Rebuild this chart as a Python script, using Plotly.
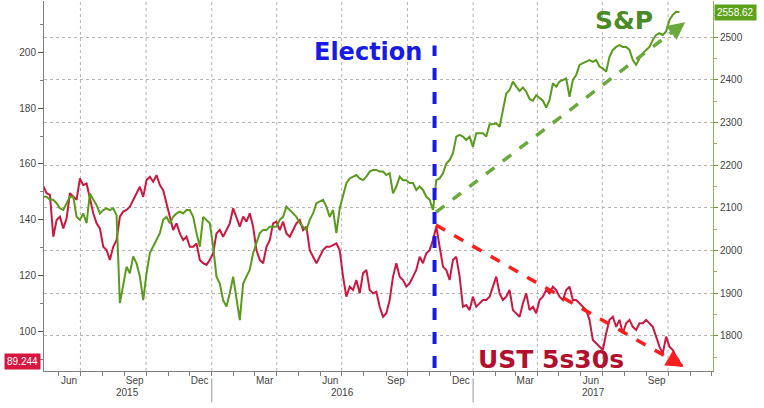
import pandas as pd
import plotly.graph_objects as go

# ---------------- data ----------------
series_start = "2015-05-10"
series_end = "2017-10-17"

ust_5s30s = [
    152, 149.5, 148.9, 133.9, 139.9, 141.1, 136.9, 140.5, 149.5, 148.2,
    147.1, 154.8, 152.4, 153.0, 147.1, 142.3, 138.7, 136.9, 130.3, 129.1,
    125.6, 130.3, 132.7, 141.1, 142.9, 143.5, 144.7, 147.1, 149.5, 151.8,
    148.2, 154.2, 155.4, 153.6, 156.0, 152.4, 150.6, 145.9, 141.1, 136.3,
    138.7, 135.1, 132.7, 133.9, 130.3, 130.3, 131.5,
    125.6, 124.4, 123.8, 125.6, 128.0, 135.1, 136.3, 133.9, 136.3, 138.7,
    144.1, 141.1, 137.5, 141.1, 139.3, 142.3, 137.5, 129.1, 125.6, 124.4,
    130.3, 132.7, 138.7, 139.3, 136.3, 139.3, 135.1, 133.9, 136.3, 138.7,
    139.9, 136.3, 137.5, 129.1, 126.7, 124.4, 126.7, 129.1, 130.3, 130.3,
    130.9, 131.5, 129.1, 119.6, 112.4, 116.0, 114.8, 118.4,
    113.6, 120.8, 122.0, 114.8, 113.6, 114.2, 108.8, 105.2, 106.5, 111.2,
    119.6, 124.4, 119.6, 118.4, 116.0, 117.2, 119.6, 122.0, 126.7, 124.4,
    128.0, 129.1, 132.7, 137.5, 130.3, 123.2, 122.0, 118.4, 125.6, 126.7,
    119.6, 108.8, 109.4, 107.6, 112.4, 108.8, 110.0, 111.2, 111.2, 112.4,
    116.0, 119.6, 113.6, 111.2, 112.4, 114.8, 107.6, 106.5,
    105.2, 110.0, 113.6, 107.6, 108.8, 106.5, 111.2, 112.4, 114.8, 113.6,
    116.0, 114.8, 112.4, 111.2, 114.8, 116.0, 111.2, 111.2, 110.0, 108.8,
    107.6, 104.1, 96.9, 95.7, 94.5, 93.3, 99.3, 104.1, 105.2, 101.6,
    104.1, 99.3, 102.9, 104.1, 101.6, 100.5, 102.9, 102.9, 104.1, 102.9,
    101.6, 98.1, 94.5, 92.1, 98.1, 94.5, 93.3, 90.9, 89.244,
]

spx = [
    2126, 2126, 2119, 2119, 2111, 2099, 2095, 2111, 2126, 2126,
    2079, 2072, 2087, 2064, 2134, 2119, 2107, 2087, 2095, 2099,
    2095, 2099, 2083, 1877, 1923, 1962, 1947, 1986, 1970, 1939,
    1884, 1947, 1994, 2009, 2025, 2041, 2072, 2079, 2064, 2079,
    2087, 2091, 2087, 2095, 2095, 2079, 2041,
    2009, 2079, 2072, 2064, 2009, 1939, 1923, 1884, 1869, 1900,
    1939, 1892, 1837, 1923, 1939, 1955, 1994, 2017, 2041, 2048,
    2048, 2056, 2056, 2056, 2072, 2079, 2103, 2095, 2087, 2079,
    2064, 2056, 2048, 2072, 2087, 2111, 2115, 2119, 2103, 2079,
    2095, 2041, 2099, 2126, 2158, 2169, 2173, 2177,
    2169, 2165, 2173, 2185, 2189, 2189, 2185, 2185, 2177, 2181,
    2134, 2150, 2173, 2165, 2165, 2158, 2158, 2142, 2150, 2142,
    2126, 2119, 2095, 2165, 2169, 2181, 2204, 2212, 2228, 2267,
    2271, 2267, 2259, 2267, 2243, 2275, 2275, 2275, 2267, 2296,
    2296, 2298, 2290, 2333, 2368, 2376, 2396, 2384,
    2374, 2382, 2372, 2355, 2351, 2364, 2357, 2351, 2335, 2353,
    2392, 2384, 2396, 2400, 2403, 2360, 2400, 2411, 2435, 2439,
    2442, 2446, 2442, 2446, 2431, 2427, 2419, 2454, 2470, 2477,
    2481, 2477, 2477, 2470, 2446, 2435, 2450, 2462, 2470, 2477,
    2493, 2505, 2509, 2505, 2513, 2540, 2552, 2559, 2558.62,
]

month_tick_dates = ["2015-06-15", "2015-09-15", "2015-12-15", "2016-03-15",
                    "2016-06-15", "2016-09-15", "2016-12-15", "2017-03-15",
                    "2017-06-15", "2017-09-15"]
month_tick_labels = ["Jun", "Sep", "Dec", "Mar", "Jun", "Sep", "Dec", "Mar", "Jun", "Sep"]
year_labels = ["2015", "2016", "2017"]
year_starts = ["2016-01-01", "2017-01-01"]

left_ticks = [100, 120, 140, 160, 180, 200]
right_ticks = [1800, 1900, 2000, 2100, 2200, 2300, 2400, 2500]

election_date = "2016-11-08"
# trend arrows: (start date, start value) -> (end date, end value)
spx_arrow = ("2016-11-10", 2090, "2017-10-25", 2535)
ust_arrow = ("2016-11-10", 138.1, "2017-10-23", 87.3)

x_range = ["2015-05-11", "2017-12-03"]
left_range = [85.77, 218.4]
right_range = [1718, 2584.5]

# ---------------- styling ----------------
RED = "#cc1841"
GREEN = "#5a9a1c"
GRID = "#b4b4b4"
AXIS = "#808080"
TXT = "#444444"

dates = pd.date_range(series_start, series_end, periods=len(spx))

fig = go.Figure()
fig.add_trace(go.Scatter(x=dates, y=spx, yaxis="y2", mode="lines",
                         line=dict(color=GREEN, width=2), name="S&P", hoverinfo="skip"))
fig.add_trace(go.Scatter(x=dates, y=ust_5s30s, yaxis="y", mode="lines",
                         line=dict(color=RED, width=2), name="UST 5s30s", hoverinfo="skip"))

shapes = []
# vertical dotted gridlines at quarter starts
for q in pd.date_range("2015-07-01", "2017-10-01", freq="QS"):
    shapes.append(dict(type="line", xref="x", yref="paper", x0=q, x1=q, y0=0, y1=1,
                       line=dict(color=GRID, width=1, dash="dot"), layer="below"))
# year separators under the axis
for ys in year_starts:
    shapes.append(dict(type="line", xref="x", yref="paper", x0=ys, x1=ys, y0=-0.02, y1=-0.085,
                       line=dict(color="#999999", width=1)))
# election line
shapes.append(dict(type="line", xref="x", yref="paper", x0=election_date, x1=election_date,
                   y0=0.008, y1=0.88, line=dict(color="#1a1ae6", width=4, dash="dash")))
# trend arrows (dashed shafts)
shapes.append(dict(type="line", xref="x", yref="y2", x0=spx_arrow[0], y0=spx_arrow[1],
                   x1=spx_arrow[2], y1=spx_arrow[3], line=dict(color="#6aaa3c", width=3.5, dash="dash")))
shapes.append(dict(type="line", xref="x", yref="y", x0=ust_arrow[0], y0=ust_arrow[1],
                   x1=ust_arrow[2], y1=ust_arrow[3], line=dict(color="#ff1e1e", width=3.5, dash="dash")))

annotations = []
# arrowheads
annotations.append(dict(x=spx_arrow[2], y=spx_arrow[3], xref="x", yref="y2", text="",
                        showarrow=True, arrowhead=2, arrowsize=1, arrowwidth=3.5,
                        arrowcolor="#6aaa3c", ax=-10, ay=7.7, standoff=0))
annotations.append(dict(x=ust_arrow[2], y=ust_arrow[3], xref="x", yref="y", text="",
                        showarrow=True, arrowhead=2, arrowsize=1, arrowwidth=3.5,
                        arrowcolor="#ff1e1e", ax=-10.8, ay=-6.2, standoff=0))
# big labels
annotations.append(dict(x=election_date, y=0.862, xref="x", yref="paper", text="<b>Election</b>",
                        showarrow=False, xanchor="right", yanchor="middle", xshift=-11,
                        font=dict(family="DejaVu Sans", size=24, color="#1a1ae6")))
annotations.append(dict(x=0.914, y=0.948, xref="paper", yref="paper", text="<b>S&P</b>",
                        showarrow=False, xanchor="right", yanchor="middle",
                        font=dict(family="DejaVu Sans", size=25, color="#4c8a26")))
annotations.append(dict(x=0.645, y=0.03, xref="paper", yref="paper", text="<b>UST 5s30s</b>",
                        showarrow=False, xanchor="left", yanchor="middle",
                        font=dict(family="DejaVu Sans", size=25, color="#b3102f")))
# last value tags
annotations.append(dict(x=0, y=ust_5s30s[-1], xref="paper", yref="y", text=f"{ust_5s30s[-1]:.3f}",
                        showarrow=False, xanchor="right", yanchor="middle", xshift=-3,
                        bgcolor="#d8153f", borderpad=2,
                        font=dict(family="Liberation Sans", size=10, color="white")))
annotations.append(dict(x=1, y=spx[-1], xref="paper", yref="y2", text=f"{spx[-1]:.2f}",
                        showarrow=False, xanchor="left", yanchor="middle", xshift=1,
                        bgcolor="#5ea21c", borderpad=2,
                        font=dict(family="Liberation Sans", size=10, color="white")))
# year labels centred in the visible part of each year
bounds = [pd.Timestamp(x_range[0])] + [pd.Timestamp(d) for d in year_starts] + [pd.Timestamp(x_range[1])]
for i, lab in enumerate(year_labels):
    mid = bounds[i] + (bounds[i + 1] - bounds[i]) / 2
    annotations.append(dict(x=mid, y=-0.058, xref="x", yref="paper", text=lab, showarrow=False,
                            xanchor="center", yanchor="middle",
                            font=dict(family="Liberation Sans", size=10, color=TXT)))

fig.update_layout(
    template="none",
    width=764, height=408,
    margin=dict(l=44, r=51, t=1, b=37, autoexpand=False),
    paper_bgcolor="white", plot_bgcolor="white",
    showlegend=False, hovermode=False,
    shapes=shapes, annotations=annotations,
    xaxis=dict(type="date", range=x_range, tickmode="array", tickvals=month_tick_dates,
               ticktext=month_tick_labels, ticks="", showgrid=False, zeroline=False,
               automargin=False, showline=True, linecolor=AXIS, linewidth=1,
               tickfont=dict(family="Liberation Sans", size=10, color=TXT),
               minor=dict(dtick="M1", tick0="2015-01-01", ticks="outside", ticklen=4,
                          tickcolor=AXIS, showgrid=False)),
    yaxis=dict(range=left_range, tickmode="array", tickvals=left_ticks, ticks="outside",
               ticklen=5, tickcolor="#555555", showgrid=False, zeroline=False,
               automargin=False, showline=True, linecolor=AXIS, linewidth=1,
               tickfont=dict(family="Liberation Sans", size=10, color=TXT),
               minor=dict(dtick=10, tick0=0, ticks="outside", ticklen=3, tickcolor=AXIS)),
    yaxis2=dict(range=right_range, overlaying="y", side="right", tickmode="array",
                tickvals=right_ticks, ticks="outside", ticklen=4, tickcolor="#6a9a3a",
                showgrid=True, gridcolor=GRID, griddash="dot", gridwidth=1, zeroline=False,
                automargin=False, showline=True, linecolor="#8fb560", linewidth=1,
                tickfont=dict(family="Liberation Sans", size=10, color=TXT),
                minor=dict(dtick=50, tick0=0, ticks="outside", ticklen=3, tickcolor="#8fb560")),
)

# the page's default 8px body margin would push the 764x408 figure off the window
fig.write_html("out.html", config={"displayModeBar": False},
               post_script="document.body.style.margin='0px';")
